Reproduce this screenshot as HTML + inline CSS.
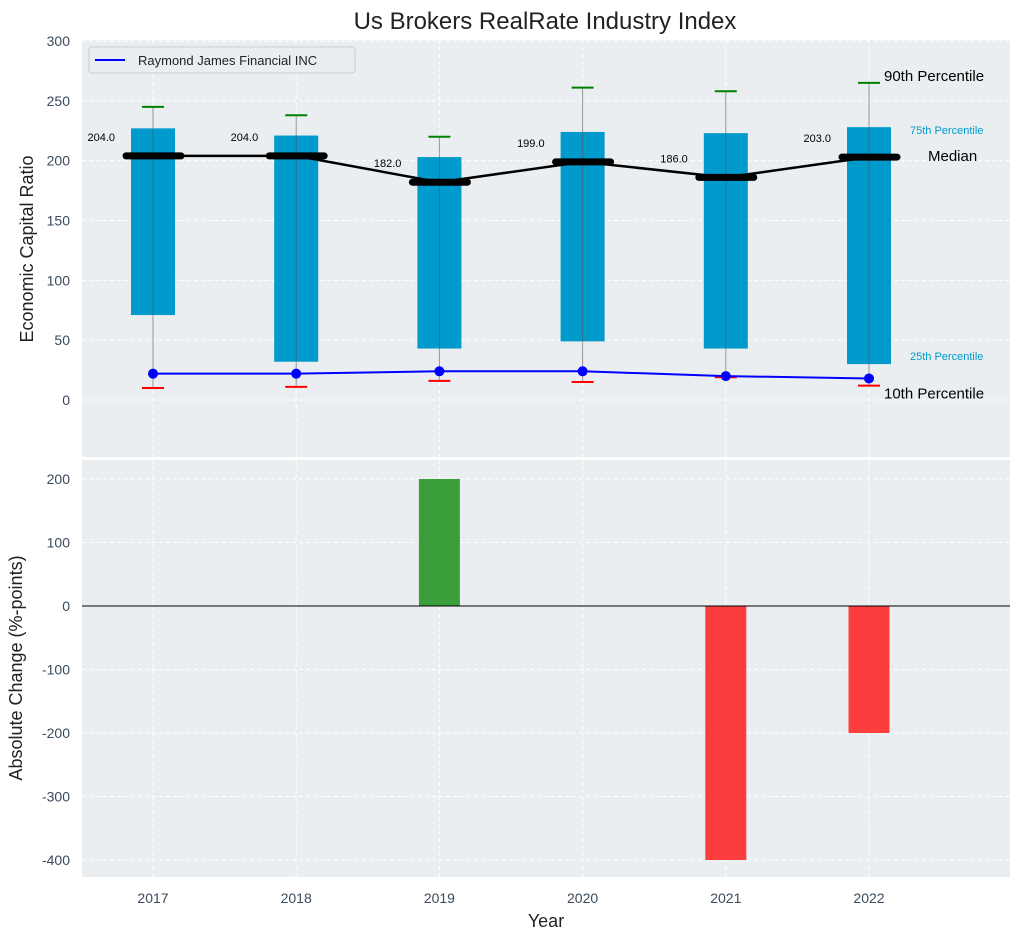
<!DOCTYPE html>
<html><head><meta charset="utf-8"><style>
body{margin:0;background:#fff;font-family:"Liberation Sans",sans-serif}
svg text{font-family:"Liberation Sans",sans-serif}
</style></head><body>
<svg id="c" width="1021" height="940"></svg>
<script>
const years=[2017,2018,2019,2020,2021,2022];
const p10=[10,11,16,15,19,12];
const p25=[71,32,43,49,43,30];
const p50=[204,204,182,199,186,203];
const p75=[227,221,203,224,223,228];
const p90=[245,238,220,261,258,265];
const company=[22,22,24,24,20,18];
const change=[0,0,200,0,-400,-200];
const topTicks=[0,50,100,150,200,250,300];
const botTicks=[-400,-300,-200,-100,0,100,200];

const NS='http://www.w3.org/2000/svg';
const svg=document.getElementById('c');
function el(t,a,txt){const e=document.createElementNS(NS,t);for(const k in a)e.setAttribute(k,a[k]);if(txt!==undefined)e.textContent=txt;svg.appendChild(e);return e;}
const L=82,R=1010;
const x=v=>153+(v-2017)*143.2;
const yT=v=>400-v*359/300;
const yB=v=>606-v*0.635;
const T0=40,T1=457,B0=460,B1=877;

let e;
e=el('rect',{x:L,y:T0,width:R-L,height:T1-T0,fill:'#eaeef0'});

e=el('rect',{x:L,y:B0,width:R-L,height:B1-B0,fill:'#eaeef0'});

topTicks.forEach(t=>{el('line',{x1:L,x2:R,y1:yT(t),y2:yT(t),stroke:'#fff','stroke-dasharray':'4,3'});
 e=el('text',{x:70,y:yT(t)+5,'text-anchor':'end','font-size':14,fill:'#3a4a5c'},t);
 });
botTicks.forEach(t=>{el('line',{x1:L,x2:R,y1:yB(t),y2:yB(t),stroke:'#fff','stroke-dasharray':'4,3'});
 e=el('text',{x:70,y:yB(t)+5,'text-anchor':'end','font-size':14,fill:'#3a4a5c'},t);
 });
years.forEach(y=>{
 el('line',{x1:x(y),x2:x(y),y1:T0,y2:T1,stroke:'#fff','stroke-dasharray':'4,3'});
 el('line',{x1:x(y),x2:x(y),y1:B0,y2:B1,stroke:'#fff','stroke-dasharray':'4,3'});
 e=el('text',{x:x(y),y:903,'text-anchor':'middle','font-size':14,fill:'#3a4a5c'},y);
 
});
years.forEach((y,i)=>{
 const cx=x(y);
 e=el('rect',{x:cx-22,y:yT(p75[i]),width:44,height:yT(p25[i])-yT(p75[i]),fill:'#009acd'});
 
 el('line',{x1:cx,x2:cx,y1:yT(p90[i]),y2:yT(p10[i]),stroke:'#555','stroke-opacity':0.6});
 e=el('line',{x1:cx-11,x2:cx+11,y1:yT(p90[i]),y2:yT(p90[i]),stroke:'green','stroke-width':2});
 
 e=el('line',{x1:cx-11,x2:cx+11,y1:yT(p10[i]),y2:yT(p10[i]),stroke:'red','stroke-width':2});
 
});
e=el('polyline',{points:years.map((y,i)=>x(y)+','+yT(p50[i])).join(' '),fill:'none',stroke:'#000','stroke-width':2.5});

years.forEach((y,i)=>{
 e=el('line',{x1:x(y)-27,x2:x(y)+28,y1:yT(p50[i]),y2:yT(p50[i]),stroke:'#000','stroke-width':7,'stroke-linecap':'round'});
 
 e=el('text',{x:x(y)-38,y:yT(p50[i])-15,'text-anchor':'end','font-size':11,fill:'#000'},p50[i].toFixed(1));
 
});
e=el('polyline',{points:years.map((y,i)=>x(y)+','+yT(company[i])).join(' '),fill:'none',stroke:'#0000ff','stroke-width':2});

years.forEach((y,i)=>{e=el('circle',{cx:x(y),cy:yT(company[i]),r:5,fill:'#0000ff'});
 });
const li=years.length-1;
e=el('text',{x:884,y:yT(p90[li])-2,'font-size':15,fill:'#000'},'90th Percentile');
e=el('text',{x:910,y:yT(p75[li])+7,'font-size':11,fill:'#009acd'},'75th Percentile');
e=el('text',{x:928,y:yT(p50[li])+4,'font-size':15,fill:'#000'},'Median');
e=el('text',{x:910,y:yT(p25[li])-4,'font-size':11,fill:'#009acd'},'25th Percentile');
e=el('text',{x:884,y:yT(p10[li])+13,'font-size':15,fill:'#000'},'10th Percentile');
e=el('rect',{x:89,y:47,width:266,height:26,rx:3,fill:'#eaeef0',stroke:'#ccc'});

el('line',{x1:95,x2:125,y1:60,y2:60,stroke:'#0000ff','stroke-width':2});
e=el('text',{x:138,y:65,'font-size':13,fill:'#222'},'Raymond James Financial INC');

years.forEach((y,i)=>{if(!change[i])return;
 const v=change[i];
 e=el('rect',{x:x(y)-20.5,y:Math.min(yB(v),yB(0)),width:41,height:Math.abs(yB(v)-yB(0)),fill:v>0?'#3a9e3a':'#fc3d3d'});
 });
el('line',{x1:L,x2:R,y1:yB(0),y2:yB(0),stroke:'#000','stroke-width':1});
e=el('text',{x:545,y:29,'text-anchor':'middle','font-size':24,fill:'#222'},'Us Brokers RealRate Industry Index');

e=el('text',{x:0,y:0,'text-anchor':'middle','font-size':18,fill:'#222',transform:'translate(33,249) rotate(-90)'},'Economic Capital Ratio');

e=el('text',{x:0,y:0,'text-anchor':'middle','font-size':18,fill:'#222',transform:'translate(22,668) rotate(-90)'},'Absolute Change (%-points)');

e=el('text',{x:546,y:927,'text-anchor':'middle','font-size':18,fill:'#222'},'Year');

</script>
</body></html>
